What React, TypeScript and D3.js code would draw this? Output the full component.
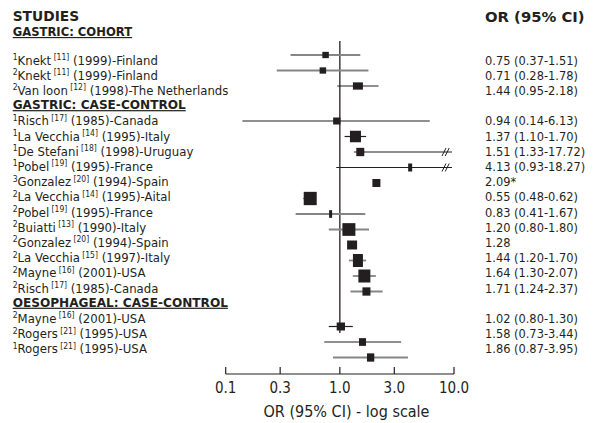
import React from "react";
import * as d3 from "d3";

// ---------- data ----------
const groupMark = [1, 2, 2, 1, 1, 1, 1, 3, 2, 2, 2, 2, 2, 2, 2, 2, 2, 1];
const authors = ["Knekt", "Knekt", "Van loon", "Risch", "La Vecchia", "De Stefani", "Pobel", "Gonzalez", "La Vecchia", "Pobel", "Buiatti", "Gonzalez", "La Vecchia", "Mayne", "Risch", "Mayne", "Rogers", "Rogers"];
const refs = ["11", "11", "12", "17", "14", "18", "19", "20", "14", "19", "13", "20", "15", "16", "17", "16", "21", "21"];
const places = ["(1999)-Finland", "(1999)-Finland", "(1998)-The Netherlands", "(1985)-Canada", "(1995)-Italy", "(1998)-Uruguay", "(1995)-France", "(1994)-Spain", "(1995)-Aital", "(1995)-France", "(1990)-Italy", "(1994)-Spain", "(1997)-Italy", "(2001)-USA", "(1985)-Canada", "(2001)-USA", "(1995)-USA", "(1995)-USA"];
const orVals = [0.75, 0.71, 1.44, 0.94, 1.37, 1.51, 4.13, 2.09, 0.55, 0.83, 1.2, 1.28, 1.44, 1.64, 1.71, 1.02, 1.58, 1.86];
const ciLow: (number | null)[] = [0.37, 0.28, 0.95, 0.14, 1.1, 1.33, 0.93, null, 0.48, 0.41, 0.8, null, 1.2, 1.3, 1.24, 0.8, 0.73, 0.87];
const ciHigh: (number | null)[] = [1.51, 1.78, 2.18, 6.13, 1.7, 17.72, 18.27, null, 0.62, 1.67, 1.8, null, 1.7, 2.07, 2.37, 1.3, 3.44, 3.95];
const orLabels = ["0.75 (0.37-1.51)", "0.71 (0.28-1.78)", "1.44 (0.95-2.18)", "0.94 (0.14-6.13)", "1.37 (1.10-1.70)", "1.51 (1.33-17.72)", "4.13 (0.93-18.27)", "2.09*", "0.55 (0.48-0.62)", "0.83 (0.41-1.67)", "1.20 (0.80-1.80)", "1.28", "1.44 (1.20-1.70)", "1.64 (1.30-2.07)", "1.71 (1.24-2.37)", "1.02 (0.80-1.30)", "1.58 (0.73-3.44)", "1.86 (0.87-3.95)"];
// study weight boxes (width, height)
const boxW = [6.5, 6.5, 10, 7.3, 11, 8, 4, 8, 13, 3, 13, 10, 10, 12, 8, 8.3, 7, 7.3];
const boxH = [6.3, 6.3, 7.3, 7, 11.5, 8.3, 8, 8, 13.3, 7.7, 12.7, 9, 13, 13, 8.3, 8, 7.7, 8.3];
const ciGray = [true, true, false, false, false, false, false, false, false, true, true, false, true, true, true, false, false, true];
const sectionTitles = ["GASTRIC: COHORT", "GASTRIC: CASE-CONTROL", "OESOPHAGEAL: CASE-CONTROL"];
const sectionSizes = [3, 12, 3];
const tickVals = [0.1, 0.3, 1, 3, 10];
const tickLabels = ["0.1", "0.3", "1.0", "3.0", "10.0"];

// ---------- layout ----------
const W = 599;
const H = 423;
const FONT = "'DejaVu Sans Condensed', 'DejaVu Sans', sans-serif";
const BOLD = "'DejaVu Sans', sans-serif";
const INK = "#231f20";
const GRAY = "#858585";

export default function App() {
  const x = d3.scaleLog().domain([0.1, 10]).range([225.7, 454]);
  const ySlot = d3.scaleLinear().domain([0, 19]).range([55, 55 + 15.5 * 19]);
  const yText = d3.scaleLinear().domain([0, 19]).range([64.5, 353.3]);
  const axisY = 374;

  const studySlots: number[] = [];
  const studyHeaders: number[] = [];
  const headerSlots: number[] = [];
  let slot = 0;
  sectionSizes.forEach((n, si) => {
    if (si > 0) {
      headerSlots.push(slot);
      slot += 1;
    }
    for (let k = 0; k < n; k++) {
      studySlots.push(slot);
      studyHeaders.push(si);
      slot += 1;
    }
  });
  const markY = (i: number) => ySlot(studySlots[i]) + 4 * studyHeaders[i];

  return (
    <svg width={W} height={H} viewBox={`0 0 ${W} ${H}`} style={{ position: "absolute", left: 0, top: 0, background: "#fff" }} fontFamily={FONT}>
      <rect x={0} y={0} width={W} height={H} fill="#fff" />
      {/* headers */}
      <text x={12.7} y={20.7} fontSize={13.8} fontWeight="bold" fontFamily={BOLD} fill={INK}>STUDIES</text>
      <text x={485} y={21.5} fontSize={14.8} fontWeight="bold" fontFamily={BOLD} fill={INK}>OR (95% CI)</text>
      <text x={12.7} y={36} fontSize={11.6} fontWeight="bold" fontFamily={BOLD} fill={INK} textDecoration="underline">{sectionTitles[0]}</text>
      {headerSlots.map((s, k) => (
        <text key={"h" + k} x={12.7} y={yText(s) - 1} fontSize={12.1} fontWeight="bold" fontFamily={BOLD} fill={INK} textDecoration="underline">{sectionTitles[k + 1]}</text>
      ))}

      {/* study labels */}
      {authors.map((a, i) => (
        <text key={"l" + i} x={12.7} y={yText(studySlots[i])} fontSize={13} fill={INK}>
          <tspan fontSize={8.5} dy={-4.5}>{groupMark[i]}</tspan>
          <tspan dy={4.5}>{a}</tspan>
          <tspan fontSize={8.5} dy={-4.5}>{" [" + refs[i] + "]"}</tspan>
          <tspan dy={4.5}>{" " + places[i]}</tspan>
        </text>
      ))}

      {/* OR values */}
      {orLabels.map((t, i) => (
        <text key={"v" + i} x={485} y={yText(studySlots[i])} fontSize={12.7} fill={INK}>{t}</text>
      ))}

      {/* reference line */}
      <line x1={x(1)} x2={x(1)} y1={41} y2={333} stroke={INK} strokeWidth={1.3} />

      {/* CIs */}
      {orVals.map((v, i) => {
        const lo = ciLow[i];
        const hi = ciHigh[i];
        if (lo == null || hi == null) return null;
        const y = markY(i);
        const broken = hi > 10;
        const xEnd = broken ? x(10) - 2 : x(hi);
        const col = ciGray[i] ? GRAY : INK;
        const sw = ciGray[i] ? 1.8 : 1.2;
        return (
          <g key={"c" + i}>
            <line x1={x(lo)} x2={xEnd} y1={y} y2={y} stroke={col} strokeWidth={sw} />
            {broken &&
              [0, 3.2].map((d) => (
                <line key={d} x1={x(10) - 12 + d} x2={x(10) - 8 + d} y1={y + 4} y2={y - 4} stroke={INK} strokeWidth={1} />
              ))}
          </g>
        );
      })}

      {/* boxes */}
      {orVals.map((v, i) => (
        <rect key={"b" + i} x={x(v) - boxW[i] / 2} y={markY(i) - boxH[i] / 2} width={boxW[i]} height={boxH[i]} fill={INK} />
      ))}

      {/* axis */}
      <line x1={x(0.1)} x2={x(10)} y1={axisY} y2={axisY} stroke={INK} strokeWidth={1.2} />
      {tickVals.map((t, k) => (
        <g key={"t" + k}>
          <line x1={x(t)} x2={x(t)} y1={axisY - 7} y2={axisY} stroke={INK} strokeWidth={1.2} />
          <text x={x(t)} y={393} fontSize={15} textAnchor="middle" fill={INK}>{tickLabels[k]}</text>
        </g>
      ))}
      <text x={346.5} y={417} fontSize={16} textAnchor="middle" fill={INK}>OR (95% CI) - log scale</text>
    </svg>
  );
}
